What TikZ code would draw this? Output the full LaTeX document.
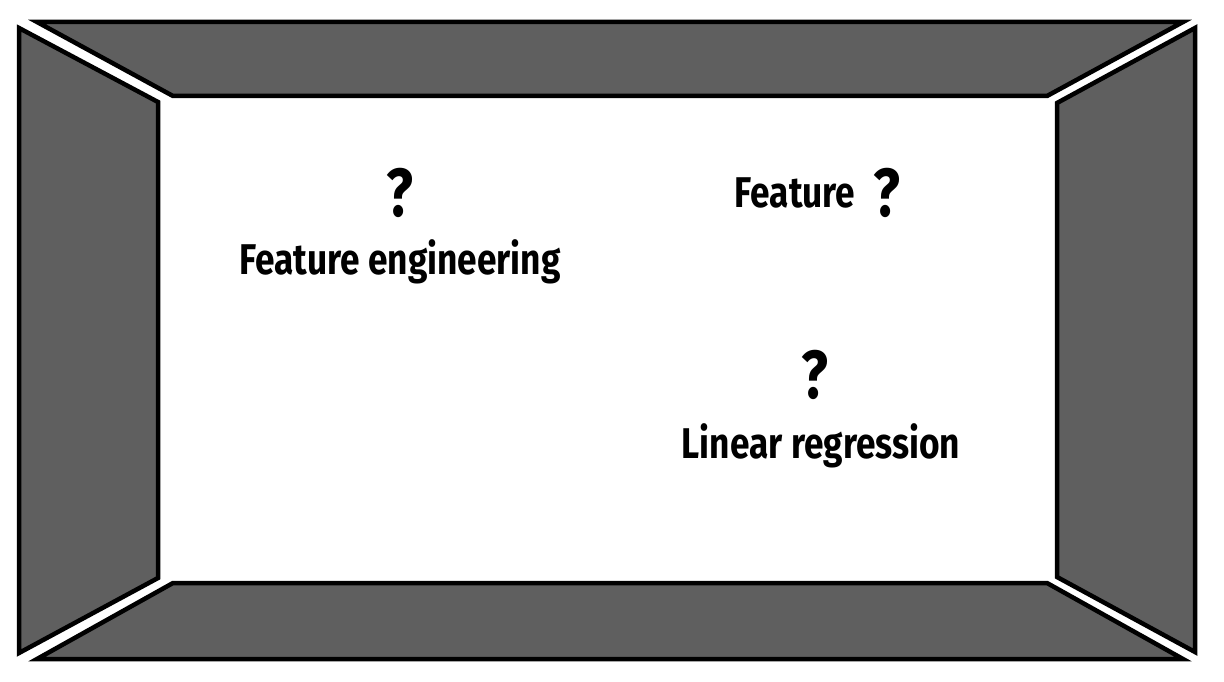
\documentclass[tikz,border=0pt]{standalone}
\usepackage{fontspec}
\newfontfamily\sketchfont[FakeStretch=0.82]{Fira Sans}
\definecolor{wallgray}{RGB}{95,95,95}
\usetikzlibrary{positioning}
\tikzset{
  wall/.style={fill=wallgray, draw=black, line width=4.5pt, line join=miter},
  word/.style={font=\sketchfont\bfseries\fontsize{43}{50}\selectfont, inner sep=0pt},
  quest/.style={font=\sketchfont\bfseries\fontsize{68}{76}\selectfont, inner sep=0pt}
}
\begin{document}
\begin{tikzpicture}[x=1pt, y=-1pt]
  \useasboundingbox (0,0) rectangle (1224,682);
  % walls of the room
  \draw [wall] (37,22) -- (1183,22) -- (1047,96) -- (173,96) -- cycle;
  \draw [wall] (37,659) -- (1183,659) -- (1047,583) -- (173,583) -- cycle;
  \draw [wall] (19,28) -- (158,102) -- (158,578) -- (19,653) -- cycle;
  \draw [wall] (1195,28) -- (1057,103) -- (1057,577) -- (1195,652) -- cycle;

  % texts
  \node [quest] (q1) at (400,193) {?};
  \node [word] (fe) at (400,262) {Feature engineering};
  \node [word] (feat) at (795,193) {Feature};
  \node [quest, right=18pt of feat] (q2) {?};
  \node [quest] (q3) at (815,375) {?};
  \node [word] (lr) at (821,446) {Linear regression};
\end{tikzpicture}
\end{document}
